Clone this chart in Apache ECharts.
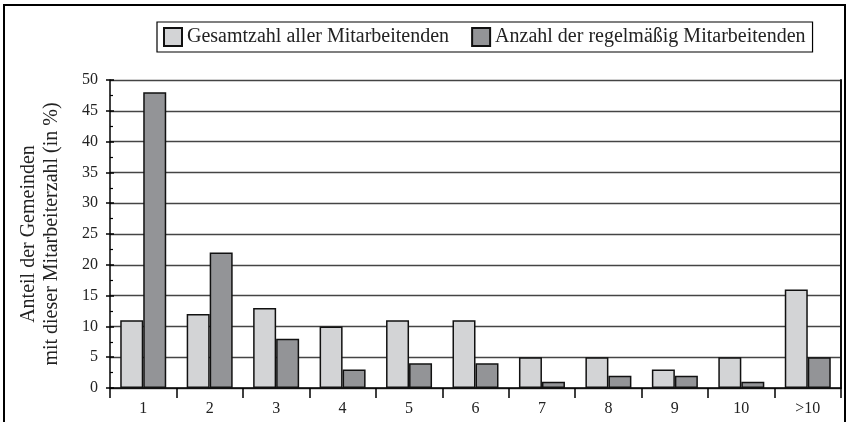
<!DOCTYPE html>
<html><head><meta charset="utf-8">
<script src="https://cdn.jsdelivr.net/npm/echarts@6/dist/echarts.min.js"></script>
<style>html,body{margin:0;padding:0;background:#fff}#c{width:850px;height:422px}</style>
</head><body><div id="c"></div>
<script>
const categories = ['1','2','3','4','5','6','7','8','9','10','>10'];
const gesamt = [11,12,13,10,11,11,5,5,3,5,16];
const regelmaessig = [48,22,8,3,4,4,1,2,2,1,5];
const yTicks = {min:0, max:50, interval:5};
const seriesNames = ['Gesamtzahl aller Mitarbeitenden','Anzahl der regelmäßig Mitarbeitenden'];
const yName = 'Anteil der Gemeinden\nmit dieser Mitarbeiterzahl (in %)';

const FONT = 'Liberation Serif';
const chart = echarts.init(document.getElementById('c'), null, {renderer:'canvas'});
chart.setOption({
  animation:false,
  backgroundColor:'#fff',
  textStyle:{fontFamily:FONT},
  graphic:[{type:'rect', shape:{x:4,y:5,width:841,height:425}, style:{fill:'none', stroke:'#000', lineWidth:2}, silent:true}],
  legend:{
    left:157, top:22, width:690,
    data:seriesNames,
    orient:'horizontal',
    borderColor:'#000', borderWidth:1.2, padding:[5,7,5,6],
    itemWidth:18, itemHeight:18, itemGap:22,
    icon:'rect',
    textStyle:{fontFamily:FONT, fontSize:20, color:'#222', padding:[0,0,0,0]},
    backgroundColor:'#fff'
  },
  grid:{left:110, right:9, top:80, bottom:34, containLabel:false},
  xAxis:{
    type:'category', data:categories, boundaryGap:true,
    axisLine:{show:true, lineStyle:{color:'#000', width:1.5}},
    axisTick:{show:true, length:10, inside:false, lineStyle:{color:'#000', width:1.5}},
    axisLabel:{fontFamily:FONT, fontSize:16, color:'#222', margin:13},
    splitLine:{show:false}
  },
  yAxis:[{
    type:'value', min:yTicks.min, max:yTicks.max, interval:yTicks.interval,
    name:yName, nameLocation:'middle', nameRotate:90, nameGap:47,
    nameTextStyle:{fontFamily:FONT, fontSize:20, color:'#222', lineHeight:23, align:'center'},
    axisLine:{show:true, lineStyle:{color:'#000', width:1.5}},
    axisTick:{show:true, length:4, inside:false, lineStyle:{color:'#000', width:1.5}},
    axisLabel:{fontFamily:FONT, fontSize:16, color:'#222', margin:12},
    splitLine:{show:true, lineStyle:{color:'#444', width:1.3}}
  },{
    type:'value', min:yTicks.min, max:yTicks.max, interval:yTicks.interval, position:'left',
    axisLine:{show:false},
    axisTick:{show:true, length:4, inside:true, lineStyle:{color:'#000', width:1.5}},
    minorTick:{show:true, splitNumber:2, length:3, lineStyle:{color:'#000', width:1.2}},
    axisLabel:{show:false}, splitLine:{show:false}
  },{
    type:'value', min:yTicks.min, max:yTicks.max, interval:yTicks.interval, position:'right',
    axisLine:{show:true, lineStyle:{color:'#111', width:2}},
    axisTick:{show:false}, axisLabel:{show:false}, splitLine:{show:false}
  }],
  series:[{
    name:seriesNames[0], type:'bar', data:gesamt, barWidth:23, barGap:'0%',
    itemStyle:{color:'#d3d4d6', borderColor:'#111', borderWidth:1.5}
  },{
    name:seriesNames[1], type:'bar', data:regelmaessig, barWidth:23, barGap:'0%',
    itemStyle:{color:'#939497', borderColor:'#111', borderWidth:1.5}
  }]
});
</script></body></html>
